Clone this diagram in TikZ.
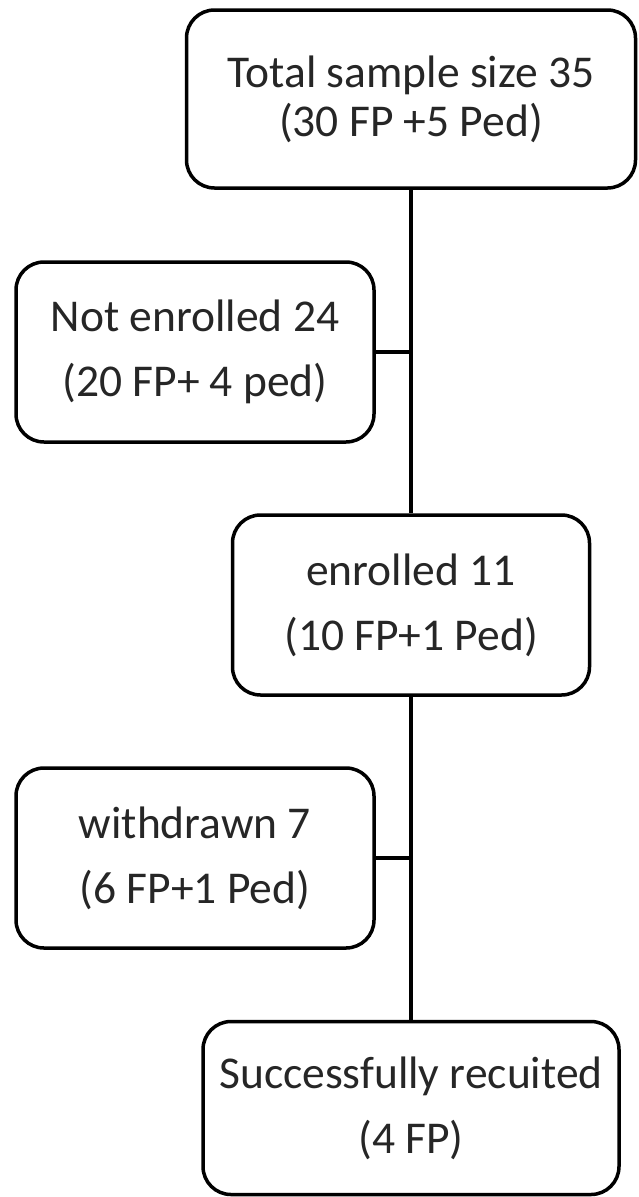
\documentclass[tikz,border=0pt]{standalone}
\usepackage{fontspec}
\setmainfont{Carlito}
\begin{document}
\begin{tikzpicture}[x=1pt,y=-1pt,
  flowbox/.style={draw=black, line width=3.5pt, rounded corners=28pt, fill=white,
    align=center, inner sep=0pt, font=\fontsize{45.5}{65}\selectfont, text=black!85},
  link/.style={draw=black, line width=3.2pt}]
\useasboundingbox (0,0) rectangle (638,1197);
\fill[white] (0,0) rectangle (638,1197);
\node[flowbox, minimum width=449pt, minimum height=178pt, font=\fontsize{45.5}{49}\selectfont] (total) at (411,99)
  {Total sample size 35\\(30 FP +5 Ped)};
\node[flowbox, minimum width=358pt, minimum height=180pt] (notenr) at (195,352)
  {Not enrolled 24\\(20 FP+ 4 ped)};
\node[flowbox, minimum width=357pt, minimum height=180pt] (enr) at (411,605)
  {enrolled 11\\(10 FP+1 Ped)};
\node[flowbox, minimum width=358pt, minimum height=180pt] (wd) at (195,858)
  {withdrawn 7\\(6 FP+1 Ped)};
\node[flowbox, minimum width=416pt, minimum height=173pt] (succ) at (411,1108)
  {Successfully recuited\\(4 FP)};
\draw[link] (total.south) -- (enr.north);
\draw[link] (enr.south) -- (succ.north);
\coordinate (j1) at (notenr.east -| total.south);
\coordinate (j2) at (wd.east -| enr.south);
\draw[link] (notenr.east) -- (j1);
\draw[link] (wd.east) -- (j2);
\end{tikzpicture}
\end{document}
